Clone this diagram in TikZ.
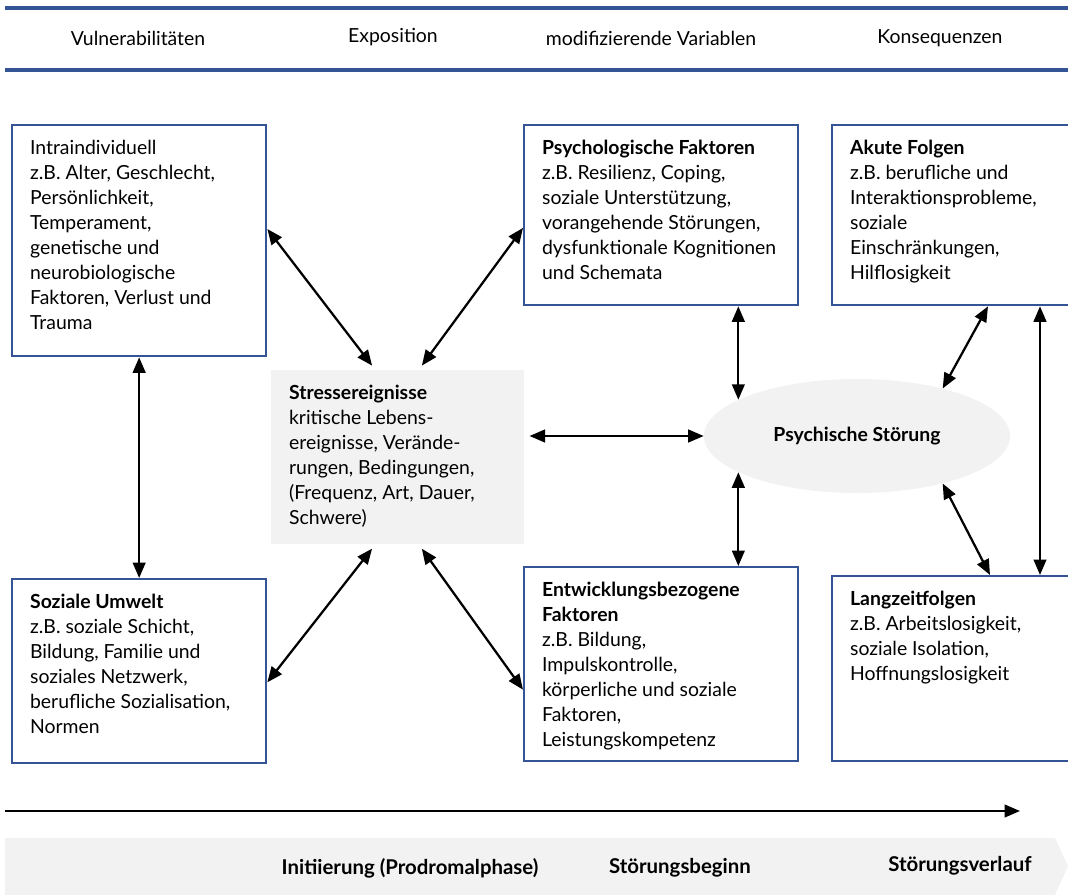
\documentclass[tikz,border=0pt]{standalone}
\usepackage{fontspec}
\setmainfont{Lato}
\usetikzlibrary{shapes.geometric,arrows.meta,calc}

\definecolor{rahmenblau}{RGB}{52,84,150}
\newcommand{\schrift}{\fontsize{13.8}{17.8}\selectfont}
\newcommand{\kastentext}[3]{\parbox[t][#2][t]{#1}{\raggedright #3}}

\begin{document}
\begin{tikzpicture}[x=0.025cm,y=-0.025cm,
    every node/.style={font=\schrift},
    kasten/.style={draw=rahmenblau,line width=1.6pt,anchor=north west,inner xsep=0.45cm,inner ysep=0.375cm},
    grau/.style={fill=gray!10},
    pfeil/.style={{Triangle[length=11pt,width=9pt]}-{Triangle[length=11pt,width=9pt]},line width=1.6pt},
    phase/.style={font=\fontsize{14.5}{17.8}\selectfont\bfseries}]
    \useasboundingbox (0,0) rectangle (1068,895);

    % Kopfzeile
    \draw[rahmenblau,line width=2.6pt] (5,8) -- (1068,8);
    \draw[rahmenblau,line width=2.6pt] (5,70) -- (1068,70);
    \node (vulnerab) at (138,38) {Vulnerabilitäten};
    \node (exposition) at (393,37) {Exposition};
    \node (modvar) at (651,38) {modifizierende Variablen};
    \node (konseq) at (940,38) {Konsequenzen};

    % Kaesten
    \node[kasten] (intra) at (11,124) {\kastentext{5.45cm}{5.025cm}{Intraindividuell\\ z.B. Alter, Geschlecht,\\ Persönlichkeit,\\ Temperament,\\ genetische und\\ neurobiologische\\ Faktoren, Verlust und\\ Trauma}};
    \node[kasten] (sozial) at (11,578) {\kastentext{5.45cm}{3.85cm}{\textbf{Soziale Umwelt}\\ z.B. soziale Schicht,\\ Bildung, Familie und\\ soziales Netzwerk,\\ berufliche Sozialisation,\\ Normen}};
    \node[kasten,draw=none,grau] (stress) at (270,369) {\kastentext{5.425cm}{3.6cm}{\textbf{Stressereignisse}\\ kritische Lebens-\\ ereignisse, Verände-\\ rungen, Bedingungen,\\ (Frequenz, Art, Dauer,\\ Schwere)}};
    \node[kasten] (psych) at (523,124) {\kastentext{5.95cm}{3.75cm}{\textbf{Psychologische Faktoren}\\ z.B. Resilienz, Coping,\\ soziale Unterstützung,\\ vorangehende Störungen,\\ dysfunktionale Kognitionen\\ und Schemata}};
    \node[kasten] (entw) at (523,566) {\kastentext{5.95cm}{4.1cm}{\textbf{Entwicklungsbezogene}\\ \textbf{Faktoren}\\ z.B. Bildung,\\ Impulskontrolle,\\ körperliche und soziale\\ Faktoren,\\ Leistungskompetenz}};
    \node[kasten] (akut) at (831,124) {\kastentext{5.6cm}{3.75cm}{\textbf{Akute Folgen}\\ z.B. berufliche und\\ Interaktionsprobleme,\\ soziale\\ Einschränkungen,\\ Hilflosigkeit}};
    \node[kasten] (langzeit) at (831,575) {\kastentext{5.6cm}{3.875cm}{\textbf{Langzeitfolgen}\\ z.B. Arbeitslosigkeit,\\ soziale Isolation,\\ Hoffnungslosigkeit}};

    \node[ellipse,grau,minimum width=7.65cm,minimum height=2.85cm,font=\schrift\bfseries] (stoerung) at (857,436) {Psychische Störung};

    % Pfeile
    \draw[pfeil,shorten <=3pt] ($(stress.north west)!0.41!(stress.north east)$) -- ($(intra.north east)!0.45!(intra.south east)$);
    \draw[pfeil,shorten <=3pt] ($(stress.north west)!0.585!(stress.north east)$) -- ($(psych.north west)!0.57!(psych.south west)$);
    \draw[pfeil,shorten <=3pt] ($(stress.south west)!0.41!(stress.south east)$) -- ($(sozial.north east)!0.56!(sozial.south east)$);
    \draw[pfeil,shorten <=3pt] ($(stress.south west)!0.585!(stress.south east)$) -- ($(entw.north west)!0.63!(entw.south west)$);
    \draw[pfeil,shorten <=3pt] (stress.east |- stoerung.west) -- (stoerung.west);
    \draw[pfeil] (intra.south) -- (sozial.north);
    \draw[pfeil] (stoerung.163 |- psych.south) -- (stoerung.163);
    \draw[pfeil] (stoerung.197) -- (stoerung.197 |- entw.north);
    \draw[pfeil] ($(akut.south west)+(157,0)$) -- (stoerung.29);
    \draw[pfeil] (stoerung.-29) -- ($(langzeit.north west)+(159,0)$);
    \draw[pfeil] ($(akut.south west)+(209,0)$) -- ($(langzeit.north west)+(209,0)$);

    % Zeitachse
    \coordinate (zeit0) at (5,811);
    \coordinate (zeit1) at (1020,811);
    \draw[line width=1.6pt,-{Triangle[length=11pt,width=9pt]}] (zeit0) -- (zeit1);
    \fill[gray!10] (5,838) -- (1055,838) -- (1068,866) -- (1055,895) -- (5,895) -- cycle;
    \node[phase] (initiierung) at (410,868) {Initiierung (Prodromalphase)};
    \node[phase] (beginn) at (680,868) {Störungsbeginn};
    \node[phase] (verlauf) at (960,866) {Störungsverlauf};
\end{tikzpicture}
\end{document}
